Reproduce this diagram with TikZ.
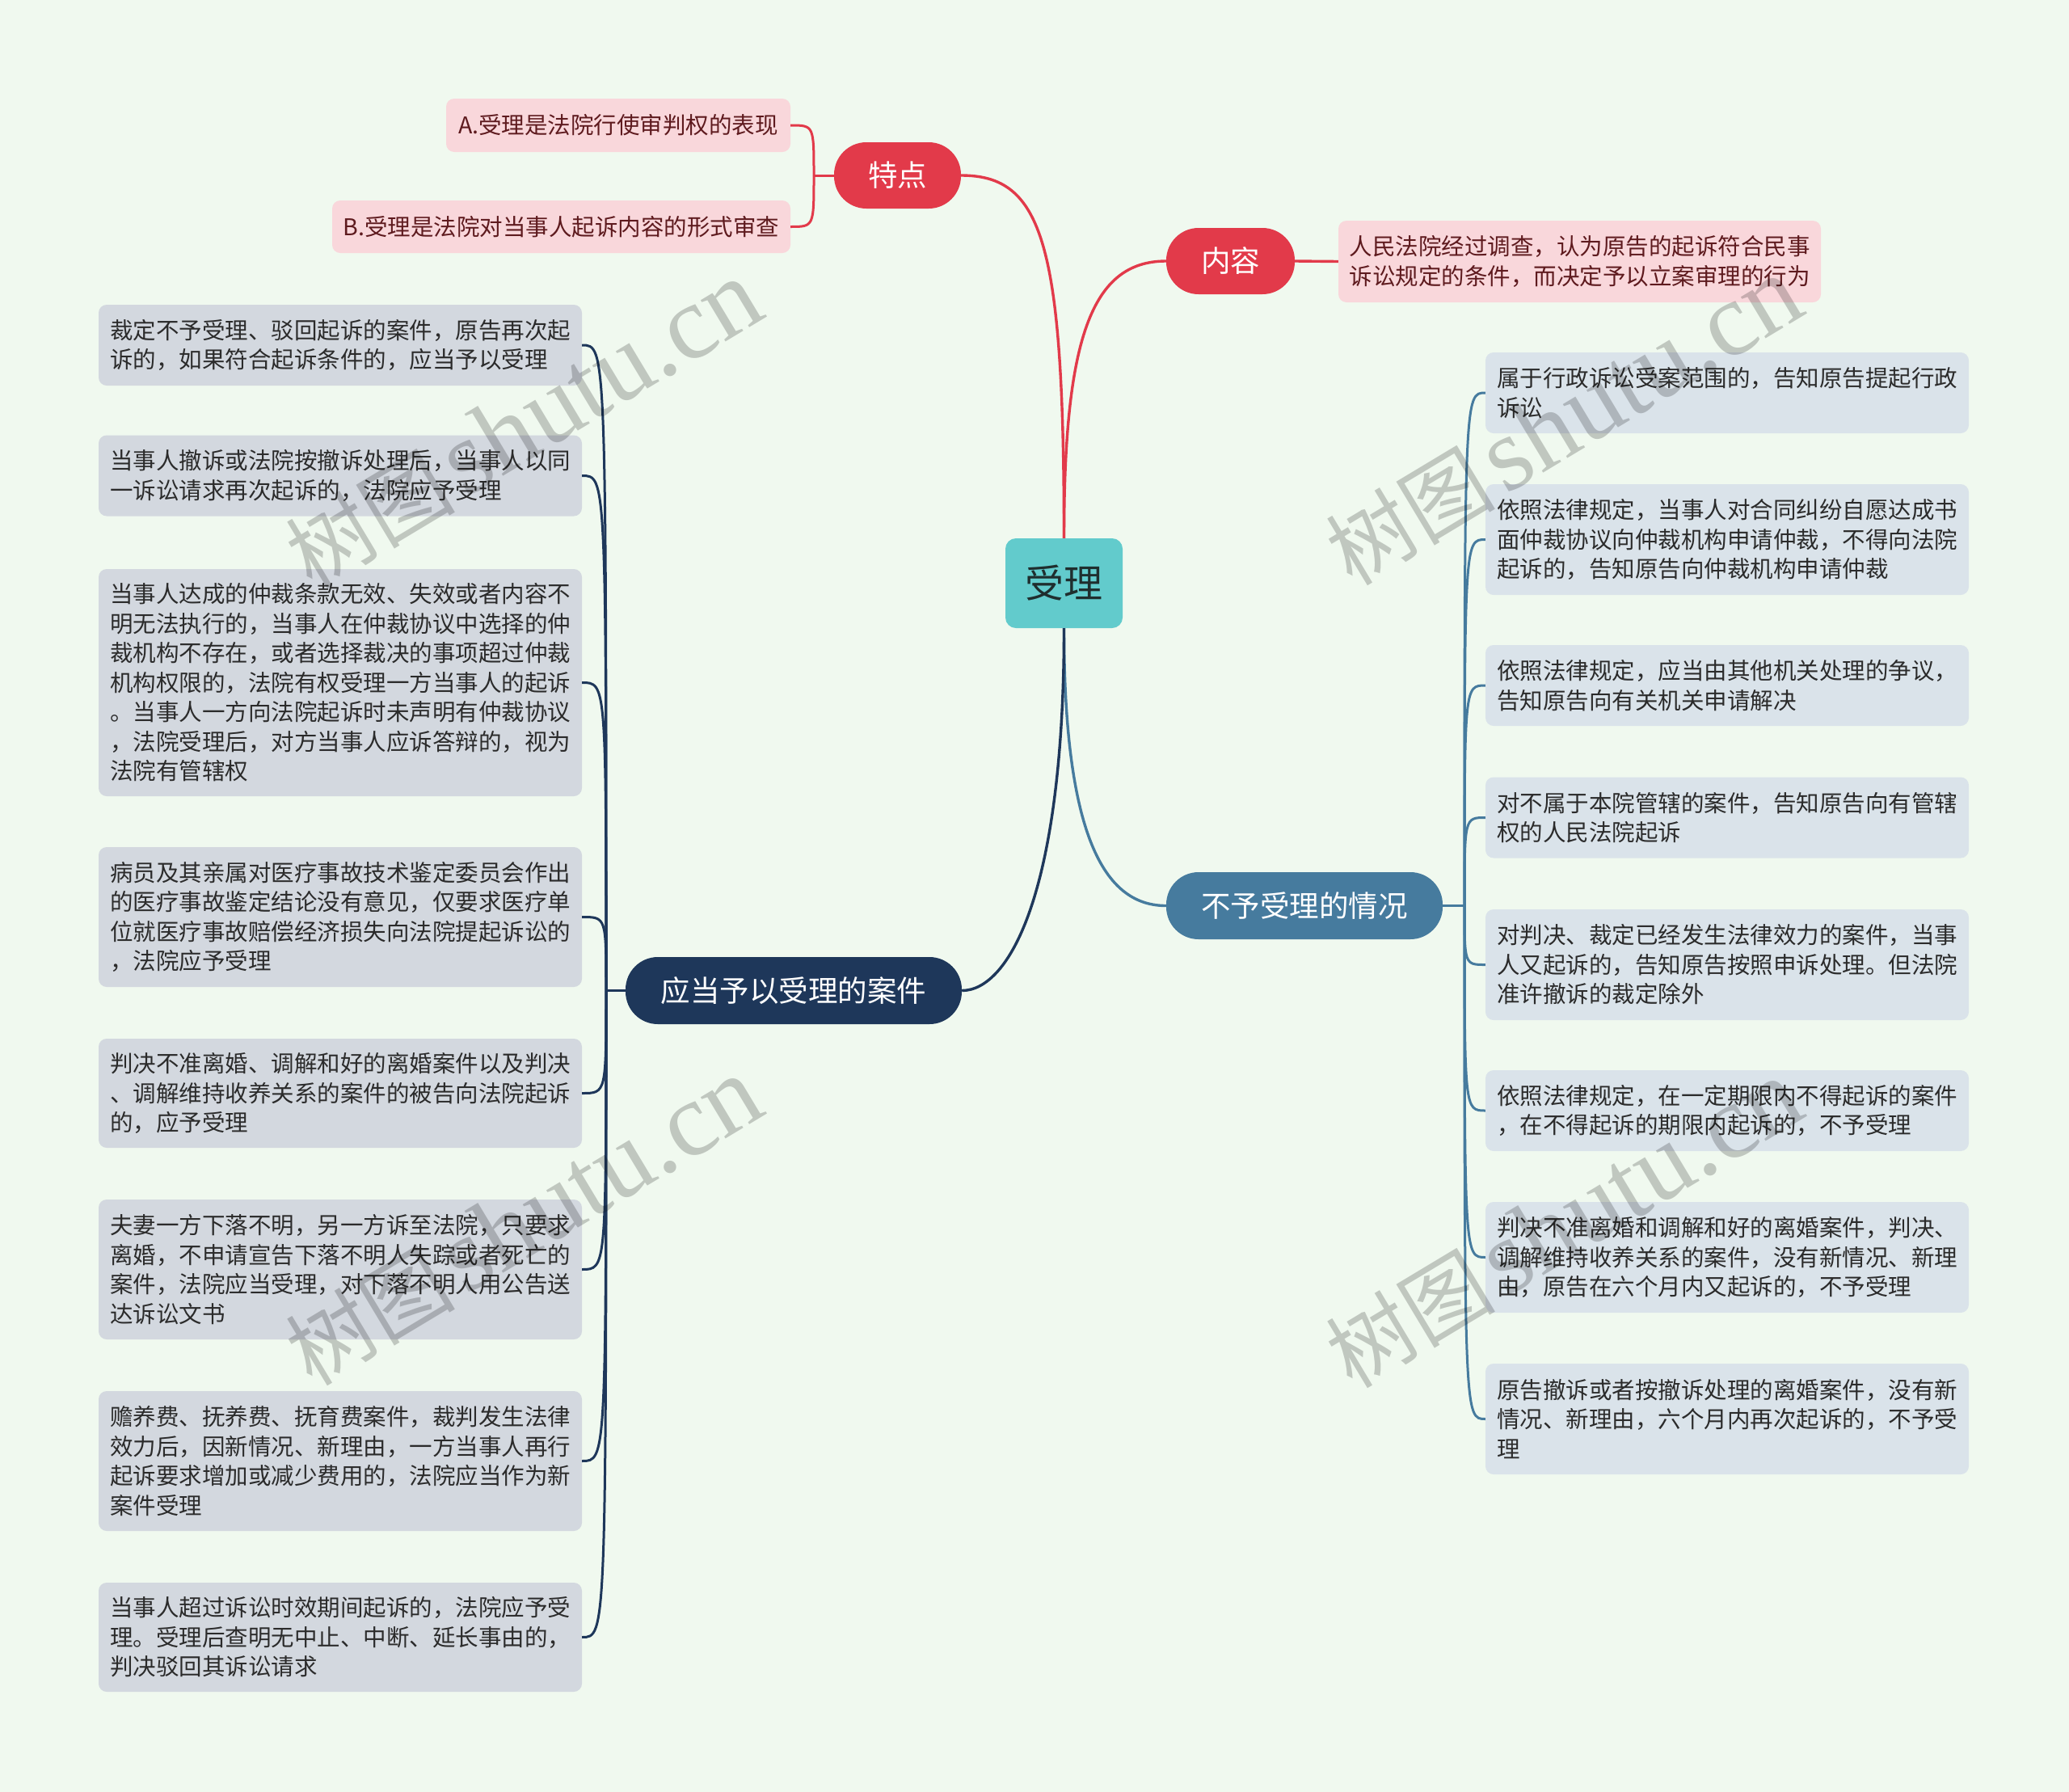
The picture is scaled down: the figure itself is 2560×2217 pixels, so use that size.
\documentclass[tikz,border=0pt]{standalone}
\usepackage{fontspec}
\setmainfont{Noto Sans CJK SC}
\newfontfamily\wmlatin{Liberation Serif}
\newfontfamily\wmcjk{Noto Sans CJK SC}
\usetikzlibrary{calc}
\definecolor{cBg}{HTML}{F0F9EF}
\definecolor{cRed}{HTML}{E23A4A}
\definecolor{cTeal}{HTML}{62CBCC}
\definecolor{cBlue}{HTML}{467B9E}
\definecolor{cNavy}{HTML}{1E375A}
\definecolor{cPink}{HTML}{F9D7DB}
\definecolor{cPinkTxt}{HTML}{5E1A1E}
\definecolor{cLeafL}{HTML}{D3D8DF}
\definecolor{cLeafR}{HTML}{DAE3EA}
\definecolor{cTxt}{HTML}{2B2B2B}
\definecolor{cRootTxt}{HTML}{1F2E2E}
\tikzset{
  leaffont/.style={font=\fontsize{28.5pt}{36.5pt}\selectfont},
  leafL/.style={leaffont, fill=cLeafL, rounded corners=10pt, text width=570pt, align=left,
    inner xsep=14pt, inner ysep=0pt, minimum width=598pt, text=cTxt},
  leafR/.style={leafL, fill=cLeafR},
  pinkleaf/.style={leaffont, fill=cPink, rounded corners=10pt, inner sep=0pt, text=cPinkTxt},
  topic/.style={rounded corners=40pt, text=white, inner sep=0pt,
    font=\fontsize{36.5pt}{44pt}\selectfont},
  rootnode/.style={fill=cTeal, rounded corners=13pt, inner sep=0pt, text=cRootTxt,
    font=\fontsize{48pt}{56pt}\selectfont},
  conn/.style={line width=3.4pt},
  lconn/.style={line width=3pt},
  wm/.style={rotate=31, text=black, text opacity=0.2, inner sep=0pt}
}
\begin{document}
\begin{tikzpicture}[x=1pt,y=-1pt]
\fill[cBg] (0,0) rectangle (2560,2217);
\useasboundingbox (0,0) rectangle (2560,2217);

% central and main topics
\node[rootnode, minimum width=145pt, minimum height=111pt] (root) at (1316.5,721.5) {受理};
\node[topic, fill=cRed, minimum width=157pt, minimum height=82pt] (td) at (1110.5,217) {特点};
\node[topic, fill=cRed, minimum width=159pt, minimum height=82pt] (nr) at (1522.5,323) {内容};
\node[topic, fill=cBlue, minimum width=342pt, minimum height=83pt] (bu) at (1614,1120.5) {不予受理的情况};
\node[topic, fill=cNavy, minimum width=416pt, minimum height=83pt] (yd) at (982,1225.5) {应当予以受理的案件};

% pink leaves
\node[pinkleaf, minimum width=426pt, minimum height=66pt] (ta) at (765,155) {A.受理是法院行使审判权的表现};
\node[pinkleaf, minimum width=567pt, minimum height=65pt] (tb) at (694.5,280.5) {B.受理是法院对当事人起诉内容的形式审查};
\node[pinkleaf, text width=570pt, align=left, inner xsep=13.5pt, minimum height=101pt] (nl) at (1954.5,323.5)
  {人民法院经过调查，认为原告的起诉符合民事\\诉讼规定的条件，而决定予以立案审理的行为};

% left leaves
\node[leafL, minimum height=100pt] (l1) at (421,427) {裁定不予受理、驳回起诉的案件，原告再次起\\诉的，如果符合起诉条件的，应当予以受理};
\node[leafL, minimum height=100pt] (l2) at (421,588.5) {当事人撤诉或法院按撤诉处理后，当事人以同\\一诉讼请求再次起诉的，法院应予受理};
\node[leafL, minimum height=281pt] (l3) at (421,844.5) {当事人达成的仲裁条款无效、失效或者内容不\\明无法执行的，当事人在仲裁协议中选择的仲\\裁机构不存在，或者选择裁决的事项超过仲裁\\机构权限的，法院有权受理一方当事人的起诉\\。当事人一方向法院起诉时未声明有仲裁协议\\，法院受理后，对方当事人应诉答辩的，视为\\法院有管辖权};
\node[leafL, minimum height=173pt] (l4) at (421,1134.5) {病员及其亲属对医疗事故技术鉴定委员会作出\\的医疗事故鉴定结论没有意见，仅要求医疗单\\位就医疗事故赔偿经济损失向法院提起诉讼的\\，法院应予受理};
\node[leafL, minimum height=135pt] (l5) at (421,1352.5) {判决不准离婚、调解和好的离婚案件以及判决\\、调解维持收养关系的案件的被告向法院起诉\\的，应予受理};
\node[leafL, minimum height=173pt] (l6) at (421,1570.5) {夫妻一方下落不明，另一方诉至法院，只要求\\离婚，不申请宣告下落不明人失踪或者死亡的\\案件，法院应当受理，对下落不明人用公告送\\达诉讼文书};
\node[leafL, minimum height=173pt] (l7) at (421,1807.5) {赡养费、抚养费、抚育费案件，裁判发生法律\\效力后，因新情况、新理由，一方当事人再行\\起诉要求增加或减少费用的，法院应当作为新\\案件受理};
\node[leafL, minimum height=135pt] (l8) at (421,2025.5) {当事人超过诉讼时效期间起诉的，法院应予受\\理。受理后查明无中止、中断、延长事由的，\\判决驳回其诉讼请求};

% right leaves
\node[leafR, minimum height=100pt] (r1) at (2137,486) {属于行政诉讼受案范围的，告知原告提起行政\\诉讼};
\node[leafR, minimum height=137pt] (r2) at (2137,667.5) {依照法律规定，当事人对合同纠纷自愿达成书\\面仲裁协议向仲裁机构申请仲裁，不得向法院\\起诉的，告知原告向仲裁机构申请仲裁};
\node[leafR, minimum height=100pt] (r3) at (2137,848) {依照法律规定，应当由其他机关处理的争议，\\告知原告向有关机关申请解决};
\node[leafR, minimum height=100pt] (r4) at (2137,1011.5) {对不属于本院管辖的案件，告知原告向有管辖\\权的人民法院起诉};
\node[leafR, minimum height=137pt] (r5) at (2137,1193.5) {对判决、裁定已经发生法律效力的案件，当事\\人又起诉的，告知原告按照申诉处理。但法院\\准许撤诉的裁定除外};
\node[leafR, minimum height=100pt] (r6) at (2137,1374) {依照法律规定，在一定期限内不得起诉的案件\\，在不得起诉的期限内起诉的，不予受理};
\node[leafR, minimum height=137pt] (r7) at (2137,1555.5) {判决不准离婚和调解和好的离婚案件，判决、\\调解维持收养关系的案件，没有新情况、新理\\由，原告在六个月内又起诉的，不予受理};
\node[leafR, minimum height=137pt] (r8) at (2137,1755.5) {原告撤诉或者按撤诉处理的离婚案件，没有新\\情况、新理由，六个月内再次起诉的，不予受\\理};

% main connectors
\draw[conn, cRed] (root.north) .. controls (1316.5,300) and (1290,217) .. (td.east);
\draw[conn, cRed] (root.north) .. controls (1316.5,420) and (1350,323) .. (nr.west);
\draw[conn, cBlue] (root.south) .. controls (1316.5,1045) and (1371,1120.5) .. (bu.west);
\draw[conn, cNavy] (root.south) .. controls (1316.5,1100) and (1250,1225.5) .. (yd.east);
\draw[conn, cRed] (nr.east) -- (nl.west);

% 特点 branch
\coordinate (tj) at (1007,217);
\draw[lconn, cRed] (td.west) -- (tj);
\draw[lconn, cRed] (tj) .. controls (tj |- ta.east) .. (ta.east);
\draw[lconn, cRed] (tj) .. controls (tj |- tb.east) .. (tb.east);

% left branch
\coordinate (lj) at (750,1225.5);
\draw[lconn, cNavy] (yd.west) -- (lj);
\foreach \n in {l1,l2,l3,l4,l5,l6,l7,l8}
  \draw[lconn, cNavy] (lj) .. controls (lj |- \n.east) .. (\n.east);

% right branch
\coordinate (rj) at (1812,1120.5);
\draw[lconn, cBlue] (bu.east) -- (rj);
\foreach \n in {r1,r2,r3,r4,r5,r6,r7,r8}
  \draw[lconn, cBlue] (rj) .. controls (rj |- \n.west) .. (\n.west);

% watermarks
\foreach \p [count=\i] in {(648,526),(1935,522),(648,1512),(1935,1515)}
  \node[wm] (wm\i) at \p {{\wmcjk\fontsize{105pt}{105pt}\selectfont 树图}\hspace{12pt}{\wmlatin\fontsize{130pt}{130pt}\selectfont shutu.cn}};
\end{tikzpicture}
\end{document}
